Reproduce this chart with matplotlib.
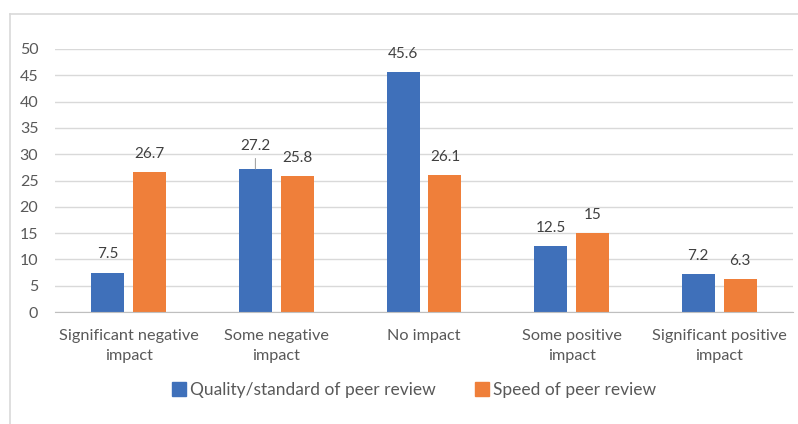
import numpy as np
import matplotlib.pyplot as plt
from matplotlib.patches import Patch
from matplotlib.lines import Line2D

categorias = ["Significant negative\nimpact", "Some negative\nimpact", "No impact",
              "Some positive\nimpact", "Significant positive\nimpact"]
calidad   = [7.5, 27.2, 45.6, 12.5, 7.2]
velocidad = [26.7, 25.8, 26.1, 15, 6.3]
etiquetas_calidad   = ["7.5", "27.2", "45.6", "12.5", "7.2"]
etiquetas_velocidad = ["26.7", "25.8", "26.1", "15", "6.3"]
series = ["Quality/standard of peer review", "Speed of peer review"]

COLOR_AZUL    = "#3F70BA"
COLOR_NARANJA = "#EF7F3A"
COLOR_TEXTO   = "#595959"
COLOR_GRID    = "#D9D9D9"

plt.rcParams["font.family"] = ["Lato", "DejaVu Sans"]

fig = plt.figure(figsize=(7.98, 4.24), dpi=100)
ax = fig.add_axes([55/798, 1-312/424, (793-55)/798, (312-49)/424])

x = np.arange(len(categorias))
ancho = 0.224
desp = 0.142
ax.bar(x - desp, calidad, ancho, color=COLOR_AZUL, label=series[0])
ax.bar(x + desp, velocidad, ancho, color=COLOR_NARANJA, label=series[1])

ax.set_xlim(-0.5, len(categorias) - 0.5)
ax.set_ylim(0, 50)
ax.set_yticks(np.arange(0, 51, 5))
ax.set_xticks(x)
ax.set_xticklabels(categorias, fontsize=11.7, color=COLOR_TEXTO, linespacing=1.5)
ax.tick_params(axis="y", labelsize=11.5, labelcolor=COLOR_TEXTO, length=0, pad=12)
ax.tick_params(axis="x", length=0, pad=12.5)
ax.grid(axis="y", color=COLOR_GRID, linewidth=1)
ax.set_axisbelow(True)
for s in ["top", "right", "left"]:
    ax.spines[s].set_visible(False)
ax.spines["bottom"].set_color("#BFBFBF")

# etiquetas de valores
for i, (v, t) in enumerate(zip(calidad, etiquetas_calidad)):
    off = 16.5 if i == 1 else 13
    ax.annotate(t, (x[i] - desp, v), xytext=(0, off), textcoords="offset points",
                ha="center", va="center", fontsize=11, color="#404040")
for i, (v, t) in enumerate(zip(velocidad, etiquetas_velocidad)):
    ax.annotate(t, (x[i] + desp, v), xytext=(0, 13), textcoords="offset points",
                ha="center", va="center", fontsize=11, color="#404040")

# linea guia de 27.2
ax.annotate("", (x[1] - desp, calidad[1]), xytext=(0, 7.5), textcoords="offset points",
            arrowprops=dict(arrowstyle="-", color="#A6A6A6", lw=0.8, shrinkA=0, shrinkB=0))

handles = [Patch(color=COLOR_AZUL), Patch(color=COLOR_NARANJA)]
fig.legend(handles, series, loc="center", bbox_to_anchor=(414/798, 1-390/424), ncol=2,
           frameon=False, fontsize=12.5, handlelength=0.8, handleheight=0.8,
           handletextpad=0.2, columnspacing=2.3, labelcolor=COLOR_TEXTO)

# marco del grafico
fig.add_artist(Line2D([10/798, 1], [1-14/424, 1-14/424], color=COLOR_GRID, lw=1.2))
fig.add_artist(Line2D([10/798, 10/798], [0, 1-14/424], color=COLOR_GRID, lw=1.2))

fig.savefig("out.png", dpi=100)
